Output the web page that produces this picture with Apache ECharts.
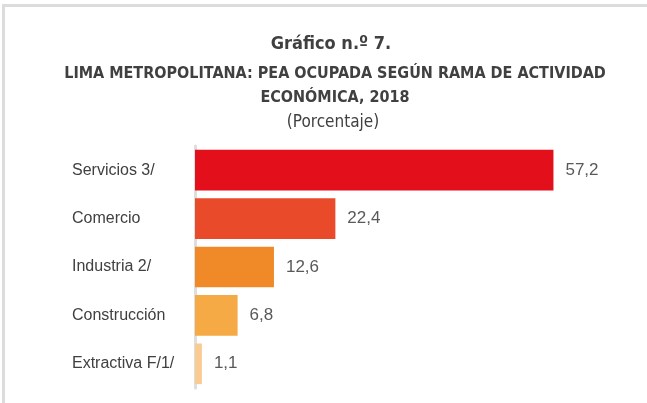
<!DOCTYPE html>
<html>
<head>
<meta charset="utf-8">
<script src="https://cdn.jsdelivr.net/npm/echarts@6/dist/echarts.min.js"></script>
<style>
  html, body { margin: 0; padding: 0; background: #fff; }
  #chart { width: 647px; height: 403px; }
</style>
</head>
<body>
<div id="chart"></div>
<script>
// ramas de actividad, de arriba hacia abajo
const categories = ['Servicios 3/', 'Comercio', 'Industria 2/', 'Construcción', 'Extractiva F/1/']
const values = [57.2, 22.4, 12.6, 6.8, 1.1]
const barColors = ['#e3101b', '#e84a2a', '#f08a28', '#f5aa45', '#f9cb92']

const chart = echarts.init(document.getElementById('chart'), null, { renderer: 'canvas' })
const narrow = '"Liberation Sans Narrow", "DejaVu Sans Condensed", "Liberation Sans", sans-serif'
const plain = '"Liberation Sans", Arial, sans-serif'

const option = {
  backgroundColor: '#ffffff',
  animation: false,
  title: [{
    text: 'Gráfico n.º 7.',
    left: 326,
    top: 30,
    textAlign: 'center',
    textStyle: { fontFamily: narrow, fontSize: 18, fontWeight: 'bold', color: '#404040' }
  }, {
    text: 'LIMA METROPOLITANA: PEA OCUPADA SEGÚN RAMA DE ACTIVIDAD\nECONÓMICA, 2018',
    left: 330,
    top: 57,
    textAlign: 'center',
    textStyle: { fontFamily: narrow, fontSize: 16, fontWeight: 'bold', color: '#404040', lineHeight: 24 }
  }, {
    text: '(Porcentaje)',
    left: 328,
    top: 109,
    textAlign: 'center',
    textStyle: { fontFamily: narrow, fontSize: 17, fontWeight: 'normal', color: '#404040' }
  }],
  graphic: [
    // marco gris del recuadro
    { type: 'rect', shape: { x: 2, y: 4, width: 645, height: 3 }, style: { fill: '#dcdcdc' }, silent: true },
    { type: 'rect', shape: { x: 2, y: 4, width: 3, height: 399 }, style: { fill: '#dcdcdc' }, silent: true }
  ],
  grid: {
    left: 195,
    top: 146,
    width: 376,
    height: 242
  },
  xAxis: {
    type: 'value',
    min: 0,
    max: 60,
    show: false
  },
  yAxis: {
    type: 'category',
    inverse: true,
    data: categories,
    axisTick: { show: false },
    axisLine: { lineStyle: { color: '#dedede', width: 3 } },
    axisLabel: {
      align: 'left',
      margin: 123,
      fontFamily: plain,
      fontSize: 16,
      color: '#404040'
    }
  },
  series: [{
    type: 'bar',
    barCategoryGap: '16%',
    data: values.map((v, i) => ({ value: v, itemStyle: { color: barColors[i] } })),
    label: {
      show: true,
      position: 'right',
      distance: 12,
      fontFamily: plain,
      fontSize: 17,
      color: '#595959',
      formatter: p => String(p.value).replace('.', ',')
    }
  }]
}

chart.setOption(option)
</script>
</body>
</html>
